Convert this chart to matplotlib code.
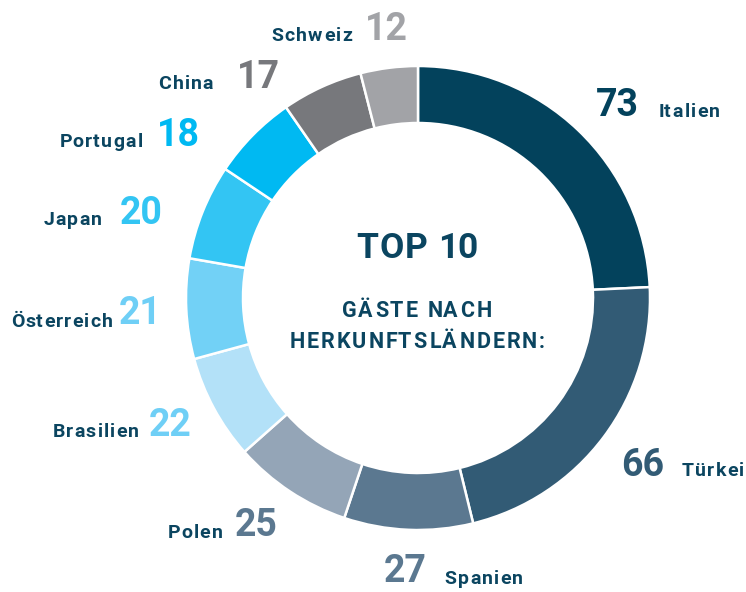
import matplotlib
matplotlib.use("Agg")
import matplotlib.pyplot as plt
from matplotlib import font_manager, ft2font
from matplotlib.font_manager import FontProperties

countries = ["Italien", "Türkei", "Spanien", "Polen", "Brasilien",
             "Österreich", "Japan", "Portugal", "China", "Schweiz"]
values = [73, 66, 27, 25, 22, 21, 20, 18, 17, 12]
colors = ["#03425c", "#325b75", "#5b7890", "#94a5b7", "#b3e1f8",
          "#72d1f6", "#33c5f3", "#00b9f2", "#77787c", "#a2a3a7"]
num_colors = ["#03425c", "#325b75", "#5b7890", "#5b7890", "#6fcff6",
              "#6fcff6", "#33c5f3", "#00b9f2", "#77787c", "#a2a3a7"]
title = "TOP 10"
subtitle_lines = ["GÄSTE NACH", "HERKUNFTSLÄNDERN:"]

# label layout (pixel coords in 746x592 image, y from top): (num_x, num_y, name_x, name_y)
label_pos = [
    (617, 106, 688, 110),
    (643, 466, 712, 469),
    (405, 572, 483, 577),
    (256, 526, 194, 531),
    (170, 425, 95, 430),
    (140, 314, 61, 320),
    (141, 214, 72, 218),
    (178, 135, 100, 140),
    (258, 78, 185, 82),
    (386, 30, 311, 34),
]

W, H = 746, 592
DPI = 100
fig = plt.figure(figsize=(W / DPI, H / DPI), dpi=DPI)
ax = fig.add_axes([0, 0, 1, 1])

cx, cy, R = 418, H - 298, 232
ax.pie(values, colors=colors, startangle=90, counterclock=False,
       center=(cx, cy), radius=R, frame=True,
       wedgeprops=dict(width=57, edgecolor="white", linewidth=1.8))
ax.set_xlim(0, W)
ax.set_ylim(0, H)
ax.set_aspect("equal")
ax.axis("off")

FAMILY = "Roboto"
font_path = font_manager.findfont(FontProperties(family=FAMILY, weight="bold"))


def spaced_text(x_center, y_center_top, s, size, spacing, color):
    """Draw letter-spaced text centred at (x_center, y from top)."""
    f = ft2font.FT2Font(font_path)
    f.set_size(size, DPI)
    advs, bears = [], []
    for ch in s:
        g = f.load_char(ord(ch))
        advs.append(g.linearHoriAdvance / 65536.0)
        bears.append(g.horiBearingX / 64.0)
    total = sum(advs) + spacing * (len(s) - 1)
    cap = 0.711 * size * DPI / 72.0
    base = (H - y_center_top) - cap / 2.0
    pen = x_center - total / 2.0
    for ch, a, b in zip(s, advs, bears):
        if ch != " ":
            ax.text(pen + b, base, ch, color=color, fontsize=size,
                    fontweight="bold", family=FAMILY, ha="left",
                    va="baseline")
        pen += a + spacing


dark = "#0b4560"
for i, (nx, ny, tx, ty) in enumerate(label_pos):
    ax.text(nx, H - ny, str(values[i]), color=num_colors[i], fontsize=27,
            fontweight="bold", family=FAMILY, ha="center", va="center")
    spaced_text(tx, ty, countries[i], 14, 1.15, dark)

spaced_text(416, 245, title, 25.5, 0.3, dark)
spaced_text(416, 309, subtitle_lines[0], 15.5, 1.9, dark)
spaced_text(416, 340, subtitle_lines[1], 15.5, 1.9, dark)

fig.savefig("out.png", dpi=DPI)
